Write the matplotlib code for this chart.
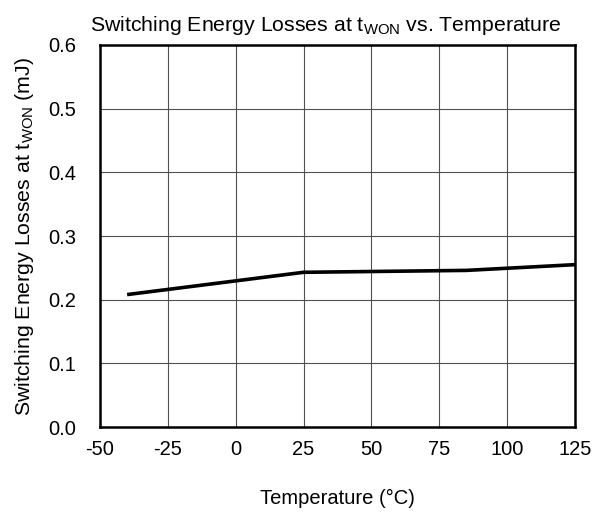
import matplotlib
matplotlib.use("Agg")
import matplotlib.pyplot as plt

plt.rcParams['font.family'] = ['Liberation Sans', 'DejaVu Sans']
plt.rcParams['mathtext.default'] = 'regular'
plt.rcParams['axes.unicode_minus'] = False

# data
temperature = [-40, 25, 85, 125]
energy_mj = [0.208, 0.243, 0.246, 0.255]
x_ticks = [-50, -25, 0, 25, 50, 75, 100, 125]
y_ticks = [0.0, 0.1, 0.2, 0.3, 0.4, 0.5, 0.6]

fig = plt.figure(figsize=(5.93, 5.13), dpi=100)
ax = fig.add_axes([0.1686, 0.1676, 0.801, 0.7447])

ax.plot(temperature, energy_mj, color='black', linewidth=2.6, solid_capstyle='butt')

ax.set_xlim(-50, 125)
ax.set_ylim(0, 0.6)
ax.set_xticks(x_ticks)
ax.set_yticks(y_ticks)
ax.set_yticklabels(["%.1f" % v for v in y_ticks])
ax.tick_params(length=0, labelsize=14.5)
ax.tick_params(axis='x', pad=9)
ax.tick_params(axis='y', pad=17)
ax.grid(True, color='#505050', linewidth=0.8)
for s in ax.spines.values():
    s.set_linewidth(1.8)
    s.set_color('black')

# title sits a little left of the axes centre in the original
ax.set_title("Switching Energy Losses at t$_{WON}$ vs. Temperature", fontsize=15.3, pad=10, x=0.475)
ax.set_xlabel("Temperature (°C)", fontsize=14.5, labelpad=22)
ax.set_ylabel("Switching Energy Losses at t$_{WON}$ (mJ)", fontsize=15.3, labelpad=9)

fig.savefig("out.png", dpi=100)
